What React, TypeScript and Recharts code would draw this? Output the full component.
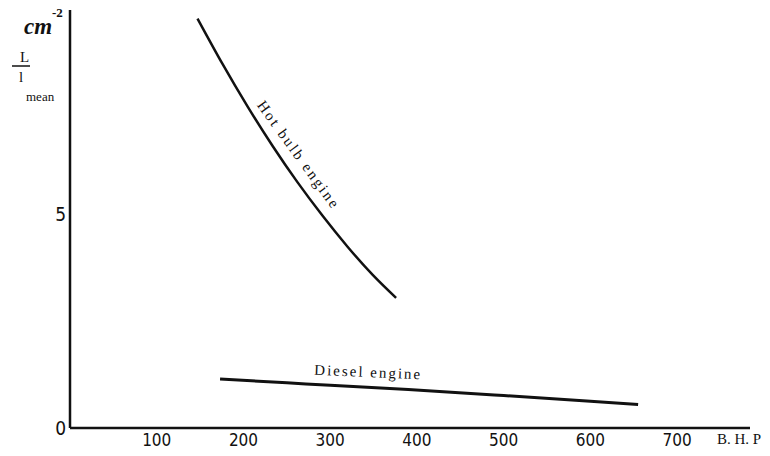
import { LineChart, Line, XAxis, YAxis } from "recharts";

// B.H.P values and L / l mean (cm^-2)
const hotBulbBhp = [147, 176, 205, 234, 262, 291, 320, 349, 376];
const hotBulbRatio = [9.6, 8.53, 7.53, 6.6, 5.77, 4.98, 4.25, 3.59, 3.05];

const dieselBhp = [173, 250, 300, 390, 500, 600, 655];
const dieselRatio = [1.15, 1.06, 1.0, 0.9, 0.76, 0.63, 0.55];

const xTicks = [100, 200, 300, 400, 500, 600, 700];
const yTicks = [0, 5];

const hotBulb = hotBulbBhp.map((bhp, i) => ({ bhp, ratio: hotBulbRatio[i] }));
const diesel = dieselBhp.map((bhp, i) => ({ bhp, ratio: dieselRatio[i] }));

const serif = "'Liberation Serif', 'DejaVu Serif', serif";
const narrow = "'Liberation Sans Narrow', 'DejaVu Sans Condensed', 'Liberation Sans', sans-serif";

export default function App() {
  return (
    <div style={{ position: "relative", width: 770, height: 456, margin: -8, background: "#fff" }}>
      <LineChart width={770} height={456} margin={{ top: 10, right: 20, bottom: 0, left: 30 }}>
        <XAxis
          type="number"
          dataKey="bhp"
          domain={[0, 784]}
          ticks={xTicks}
          allowDataOverflow
          height={28}
          tickLine={false}
          tickSize={0}
          tickMargin={6}
          axisLine={{ stroke: "#111", strokeWidth: 2.5 }}
          tick={{ fill: "#111", fontSize: 17, fontFamily: narrow }}
        />
        <YAxis
          type="number"
          dataKey="ratio"
          domain={[0, 9.8]}
          ticks={yTicks}
          allowDataOverflow
          width={40}
          tickLine={false}
          tickSize={0}
          tickMargin={4}
          axisLine={{ stroke: "#111", strokeWidth: 2.5 }}
          tick={{ fill: "#111", fontSize: 19, fontFamily: narrow }}
        />
        <Line
          data={hotBulb}
          dataKey="ratio"
          type="natural"
          stroke="#111"
          strokeWidth={2.5}
          dot={false}
          isAnimationActive={false}
        />
        <Line
          data={diesel}
          dataKey="ratio"
          type="natural"
          stroke="#111"
          strokeWidth={3}
          dot={false}
          isAnimationActive={false}
        />
      </LineChart>
      <svg
        width={770}
        height={456}
        style={{ position: "absolute", left: 0, top: 0, pointerEvents: "none" }}
      >
        <text x={24} y={34} fontFamily={serif} fontSize={23} fontStyle="italic" fontWeight="bold" fill="#111">
          cm
        </text>
        <text x={52} y={17} fontFamily={serif} fontSize={13} fontWeight="bold" fill="#111">
          -2
        </text>
        <text x={20} y={62} fontFamily={serif} fontSize={15} fill="#111">
          L
        </text>
        <line x1={12} y1={66} x2={30} y2={66} stroke="#111" strokeWidth={1.5} />
        <text x={19} y={82} fontFamily={serif} fontSize={15} fill="#111">
          l
        </text>
        <text x={26} y={101} fontFamily={serif} fontSize={13} fill="#111">
          mean
        </text>
        <text x={717} y={444} fontFamily={serif} fontSize={15} fill="#111">
          B. H. P
        </text>
        <text
          x={0}
          y={0}
          transform="translate(294 157) rotate(54)"
          textAnchor="middle"
          fontFamily={serif}
          fontSize={15}
          fill="#111"
          textLength={128}
        >
          Hot bulb engine
        </text>
        <text
          x={0}
          y={0}
          transform="translate(367 377) rotate(2.5)"
          textAnchor="middle"
          fontFamily={serif}
          fontSize={15}
          fill="#111"
          textLength={106}
        >
          Diesel engine
        </text>
      </svg>
    </div>
  );
}
